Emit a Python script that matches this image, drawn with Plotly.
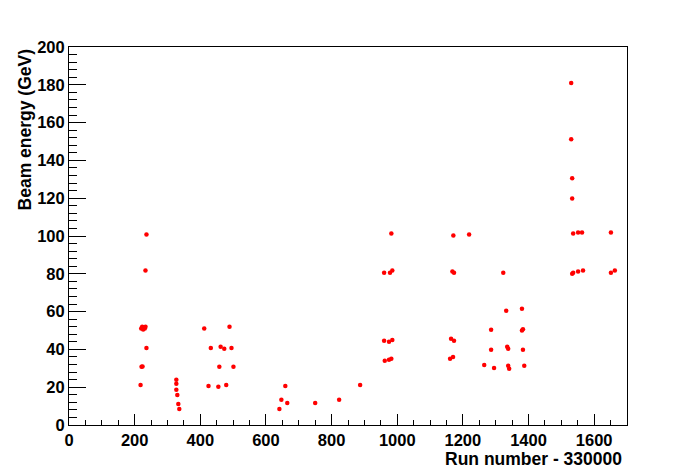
import plotly.graph_objects as go

run_offset = [
    218, 221, 224, 236, 220, 223, 226, 228, 231, 233, 233, 236,
    327, 327, 327, 330, 333, 336,
    412, 489, 432, 462, 473, 495, 458, 501, 425, 455, 479,
    641, 647, 659, 665, 750, 823, 887,
    982, 960, 978, 985, 960, 975, 985, 962, 975, 982,
    1171, 1219, 1168, 1173, 1164, 1173, 1161, 1170,
    1323, 1332, 1380, 1286, 1380, 1383, 1286, 1335, 1338, 1383, 1265, 1295, 1338, 1341, 1387,
    1530, 1530, 1533, 1533, 1536, 1551, 1563, 1651, 1536, 1533, 1551, 1566, 1651, 1663,
]
beam_energy = [
    21.2, 30.8, 31.0, 40.8, 51.0, 52.0, 50.5, 51.5, 51.0, 52.0, 81.7, 100.8,
    23.9, 21.8, 18.6, 15.9, 11.1, 8.5,
    51.0, 52.0, 40.8, 41.4, 40.3, 40.8, 30.8, 30.8, 20.7, 20.2, 21.2,
    8.5, 13.3, 20.7, 11.7, 11.7, 13.3, 21.2,
    101.3, 80.6, 80.6, 81.7, 44.6, 44.0, 45.0, 34.0, 34.5, 35.0,
    100.3, 100.8, 81.2, 80.6, 45.6, 44.6, 35.0, 36.0,
    80.6, 60.5, 61.5, 50.4, 50.0, 50.7, 39.8, 41.4, 40.3, 39.8, 31.8, 30.2, 31.3, 29.7, 31.3,
    180.9, 151.2, 130.5, 119.9, 101.3, 101.9, 101.9, 101.9, 80.6, 80.0, 81.2, 81.7, 80.6, 81.7,
]

x_title = "Run number - 330000"
y_title = "Beam energy (GeV)"

font_family = "Liberation Sans, Arial, Helvetica, sans-serif"

fig = go.Figure()
fig.add_trace(go.Scatter(
    x=run_offset, y=beam_energy, mode="markers",
    marker=dict(color="#ff0000", size=4.5, symbol="circle", line=dict(width=0)),
    showlegend=False,
))

axis_common = dict(
    showgrid=False, zeroline=False, showline=True, linecolor="black", linewidth=1,
    mirror=True, ticks="inside", tickcolor="black", tickwidth=1, automargin=False,
    tickfont=dict(family=font_family, size=16.5, color="black", weight="bold"),
)

fig.update_xaxes(range=[0, 1700], dtick=200, tick0=0, ticklen=11,
                 minor=dict(dtick=50, ticks="inside", ticklen=5, tickcolor="black"),
                 **axis_common)
fig.update_yaxes(range=[0, 200], dtick=20, tick0=0, ticklen=17,
                 minor=dict(dtick=4, ticks="inside", ticklen=8, tickcolor="black"),
                 **axis_common)

fig.add_annotation(text=x_title, xref="paper", yref="paper", x=0.995, y=-0.09,
                   xanchor="right", yanchor="middle", showarrow=False,
                   font=dict(family=font_family, size=17.5, color="black", weight="bold"))
fig.add_annotation(text=y_title, xref="paper", yref="paper", x=-0.079, y=1.0,
                   xanchor="center", yanchor="top", textangle=-90, showarrow=False,
                   font=dict(family=font_family, size=17.5, color="black", weight="bold"))

fig.update_layout(
    width=696, height=472,
    margin=dict(l=61, r=77, t=39, b=55),
    paper_bgcolor="white", plot_bgcolor="white",
)

fig.write_html("out.html")
